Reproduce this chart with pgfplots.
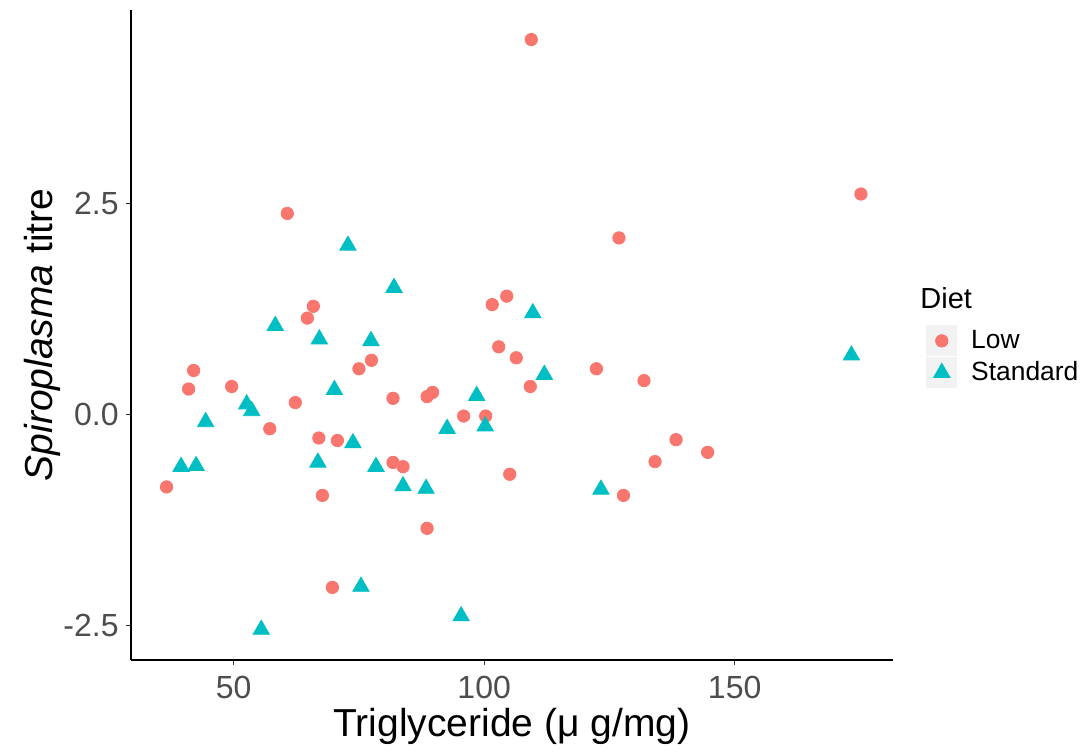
\documentclass[border=0pt]{standalone}
\usepackage{pgfplots}
\pgfplotsset{compat=1.18}
\usepackage{fontspec}
\setmainfont{Liberation Sans}
\definecolor{lowc}{HTML}{F8766D}
\definecolor{stdc}{HTML}{00BFC4}
\definecolor{grey30}{HTML}{4D4D4D}
\begin{document}
\begin{tikzpicture}
\begin{axis}[
  scale only axis, width=381pt, height=325pt,
  xmin=29.5, xmax=181.6, ymin=-2.91, ymax=4.79,
  axis lines=left, axis line style={-, line width=0.6pt, black},
  tick align=outside, major tick length=2.5pt,
  tick style={line width=0.5pt, black!80},
  xtick={50,100,150}, xticklabels={50,100,150},
  ytick={-2.5,0,2.5}, yticklabels={-2.5,0.0,2.5},
  ticklabel style={font=\fontsize{16}{19}\selectfont, text=grey30},
  yticklabel style={inner sep=3.5pt},
  xticklabel style={inner sep=1pt, yshift=-4.5pt},
  xlabel={Triglyceride (μ g/mg)},
  ylabel={\textit{Spiroplasma} titre},
  label style={font=\fontsize{19.5}{23}\selectfont, inner sep=0pt},
  xlabel style={at={(axis description cs:0.5,-0.1015)}, anchor=center},
  ylabel style={at={(axis description cs:-0.1168,0.5)}, anchor=center},
  clip=false,
  legend cell align=left,
  legend style={draw=none, fill=none, at={(rel axis cs:1.0433,0.4665)}, anchor=west,
    inner sep=0pt, row sep=0.5pt, nodes={inner sep=0pt},
    /tikz/every odd column/.append style={column sep=7pt},
    font=\fontsize{13.2}{15}\selectfont},
  legend image code/.code={
    \fill[black!5] (0pt,-7.5pt) rectangle (15pt,7.5pt);
    \draw[mark repeat=2,mark phase=2,#1] plot coordinates {(0pt,0pt) (7.5pt,0pt) (15pt,0pt)};
  },
]
\addplot[only marks, mark=*, mark size=3.1pt, mark options={draw=lowc, fill=lowc}] coordinates {
(109.4,4.44) (175.2,2.61) (60.7,2.38) (126.9,2.09) (65.9,1.28) (64.7,1.14)
(104.5,1.40) (101.6,1.30) (102.9,0.80) (106.4,0.67) (122.4,0.54) (131.9,0.40)
(109.2,0.33) (88.6,0.21) (89.7,0.26) (95.9,-0.02) (100.3,-0.02) (138.3,-0.30)
(144.6,-0.45) (134.1,-0.56) (105.1,-0.71) (127.8,-0.96) (88.6,-1.35) (42.0,0.52)
(41.0,0.30) (49.6,0.33) (62.3,0.14) (75.0,0.54) (77.5,0.64) (81.8,0.19)
(57.2,-0.17) (67.0,-0.28) (70.7,-0.31) (81.8,-0.57) (83.8,-0.62) (36.6,-0.86)
(67.7,-0.96) (69.7,-2.05)
};
\addlegendentry{Low}
\addplot[only marks, mark=triangle*, mark size=4.7pt, mark options={draw=stdc, fill=stdc}] coordinates {
(72.8,2.00) (82.0,1.50) (58.3,1.05) (67.1,0.89) (77.4,0.87) (70.1,0.29)
(52.6,0.12) (53.6,0.04) (44.4,-0.09) (73.8,-0.34) (39.5,-0.62) (42.5,-0.61)
(66.8,-0.57) (78.4,-0.62) (83.8,-0.85) (88.4,-0.88) (75.4,-2.04) (55.5,-2.55)
(109.7,1.20) (112.0,0.47) (98.5,0.22) (92.6,-0.17) (100.2,-0.14) (123.3,-0.89)
(95.4,-2.39) (173.3,0.70)
};
\addlegendentry{Standard}
\node[anchor=west, font=\fontsize{14.5}{17}\selectfont, inner sep=0pt] at (rel axis cs:1.0354,0.557) {Diet};
\end{axis}
\path[use as bounding box] (-65.5pt,-45.5pt) rectangle (478.5pt,330pt);
\end{tikzpicture}
\end{document}
